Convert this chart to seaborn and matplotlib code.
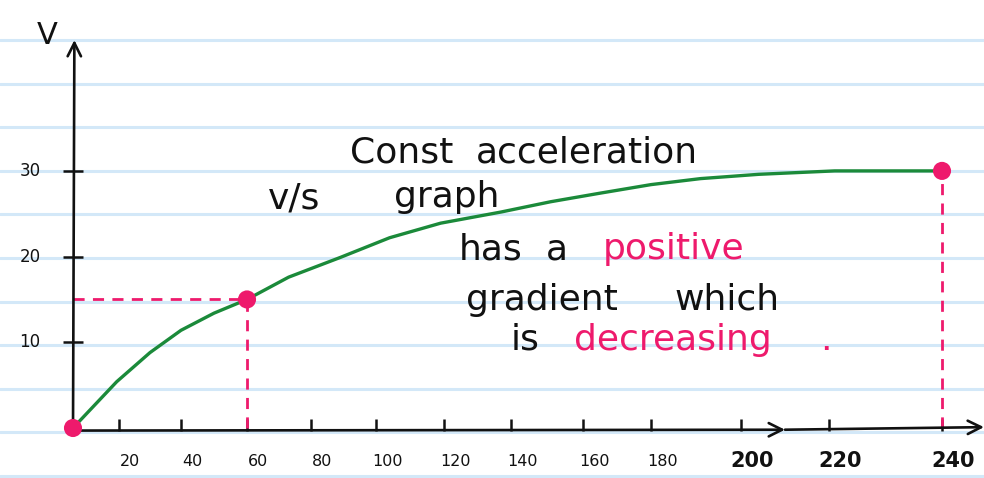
import matplotlib
matplotlib.use('Agg')
import matplotlib.pyplot as plt
from matplotlib.lines import Line2D
import seaborn as sns
import numpy as np
import pandas as pd

# curve (time, velocity)
time = [0, 19, 30, 40, 50, 60, 73, 89, 104, 119, 137, 151, 165, 180, 191, 204, 221, 240]
velocity = [0, 5.4, 8.8, 11.4, 13.4, 15, 17.6, 19.9, 22.2, 23.9, 25.2, 26.4, 27.4, 28.4,
            29.1, 29.6, 30, 30]

# highlighted points
marked_t = [0, 60, 240]
marked_v = [0, 15, 30]

x_ticks = [20, 40, 60, 80, 100, 120, 140, 160, 180, 200, 220, 240]
y_ticks = [10, 20, 30]

# the hand drawn x axis is not evenly spaced: where each value sits (px from left)
hand_vals = [-40, 0, 20, 40, 60, 80, 100, 120, 140, 160, 180, 200, 220, 240, 280]
hand_px = [-19, 73, 119, 181, 247, 311, 376, 444, 511, 583, 651, 741, 829, 942, 1168]

GREEN = '#1b8a3a'
PINK = '#ee1a6c'
INK = '#111111'
PAPER_LINE = '#d3e8f8'
W, H = 984, 478
PX_PER_V = 8.57   # pixels per unit of velocity
ORIGIN_Y = 428    # pixel row of v = 0


def fwd(x):
    return np.interp(x, hand_vals, hand_px)


def inv(p):
    return np.interp(p, hand_px, hand_vals)


sns.set_theme(style='white')
plt.rcParams['font.family'] = ['DejaVu Sans']

fig = plt.figure(figsize=(W / 100, H / 100), dpi=100)
fig.patch.set_facecolor('white')
ax = fig.add_axes([0, 0, 1, 1])
ax.set_facecolor('none')
ax.set_xscale('function', functions=(fwd, inv))
ax.set_xlim(inv(0), inv(W))
ax.set_ylim((ORIGIN_Y - H) / PX_PER_V, ORIGIN_Y / PX_PER_V)
ax.axis('off')

# notebook paper lines
for i in range(11):
    yf = 1 - (40 + 43.6 * i) / H
    fig.add_artist(Line2D([0, 1], [yf, yf], transform=fig.transFigure,
                          color=PAPER_LINE, lw=2.2, zorder=-1))

# axes with arrows
arrow = dict(arrowstyle='->', lw=1.9, color=INK, mutation_scale=24, shrinkA=0, shrinkB=0)
ax.annotate('', xy=(0.6, (ORIGIN_Y - 40) / PX_PER_V), xytext=(0, -0.3), arrowprops=arrow)
ax.annotate('', xy=(210, -0.2), xytext=(0, -0.3), arrowprops=arrow)
ax.annotate('', xy=(inv(W), 0.1), xytext=(210, -0.2), arrowprops=arrow)

# tick marks
ax.plot(x_ticks, [0.3] * len(x_ticks), ls='none', marker='|', ms=9, mew=1.8, color=INK)
ax.plot([0] * len(y_ticks), y_ticks, ls='none', marker='_', ms=15, mew=1.8, color=INK)

for t in x_ticks:
    big = t >= 200
    ax.annotate(str(t), (t, 0), xytext=(8, -24), textcoords='offset points',
                ha='center', va='center', color=INK,
                fontsize=15 if big else 11.5, fontweight='bold' if big else 'normal')
for v in y_ticks:
    ax.annotate(str(v), (0, v), xytext=(-31, 0), textcoords='offset points',
                ha='center', va='center', color=INK, fontsize=12)
fig.text(47 / W, 1 - 35 / H, 'V', fontsize=22, ha='center', va='center', color=INK)

# dashed guides
dash = dict(color=PINK, lw=2, dashes=(4, 3))
ax.plot([0, marked_t[1]], [marked_v[1], marked_v[1]], **dash)
ax.plot([marked_t[1], marked_t[1]], [0, marked_v[1]], **dash)
ax.plot([marked_t[2], marked_t[2]], [0, marked_v[2]], **dash)

# the curve and points
df = pd.DataFrame({'t': time, 'v': velocity})
sns.lineplot(data=df, x='t', y='v', color=GREEN, lw=2.4, ax=ax, zorder=3)
sns.scatterplot(x=marked_t, y=marked_v, color=PINK, s=170, edgecolor='none', ax=ax, zorder=4)


# handwritten note, word by word so the spacing follows the sketch
def note(x, y, s, color=INK):
    fig.text(x / W, 1 - y / H, s, fontsize=26, color=color, va='baseline', ha='left')


note(350, 163, 'Const')
note(476, 163, 'acceleration')
note(268, 208, 'v/s')
note(394, 207, 'graph')
note(459, 259, 'has')
note(546, 259, 'a')
note(603, 259, 'positive', PINK)
note(466, 310, 'gradient')
note(674, 310, 'which')
note(511, 350, 'is')
note(574, 350, 'decreasing', PINK)
note(820, 350, '.', PINK)

fig.savefig('out.png', dpi=100)
plt.close(fig)
